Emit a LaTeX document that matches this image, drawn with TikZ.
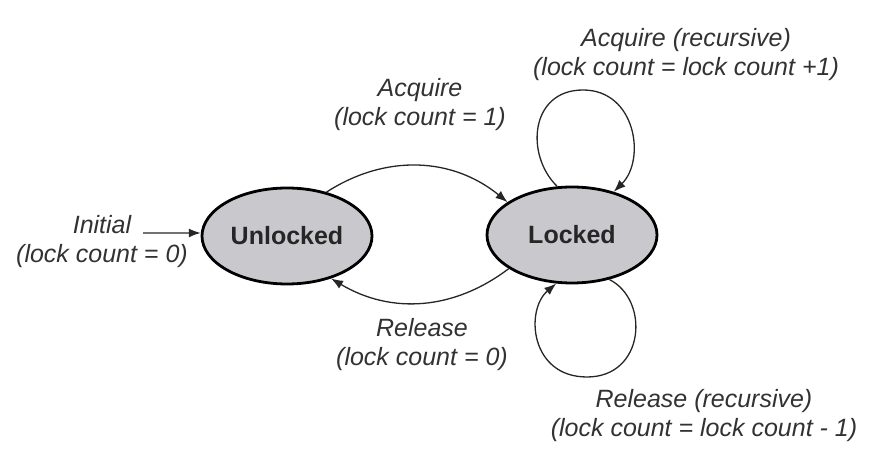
\documentclass[tikz,border=0pt]{standalone}
\usepackage{fontspec}
\setmainfont{Liberation Sans}
\usepackage{tikz}
\usetikzlibrary{arrows.meta,shapes.geometric,positioning}
\tikzset{>={Latex[length=12pt,width=9pt]}}
\definecolor{stategray}{RGB}{201,201,205}
\definecolor{lblgray}{RGB}{50,50,50}

\begin{document}
\begin{tikzpicture}[x=1pt,y=1pt,
    state/.style={ellipse,draw=black,line width=2.8pt,fill=stategray,
        minimum width=170pt,minimum height=96pt,inner sep=0pt,
        font=\fontsize{25}{29}\selectfont\bfseries,text=black!85},
    lbl/.style={align=center,text=lblgray,
        font=\fontsize{25}{29}\selectfont\itshape},
    edge/.style={->,line width=1.3pt,black!85}]
        \useasboundingbox (0,0) rectangle (880,476);

        % states
        \node[state] (unl) at (287,240) {Unlocked};
        \node[state] (lck) at (572,241) {Locked};

        % labels
        \node[lbl] (init) at (102,234) {Initial\\(lock count = 0)};
        \node[lbl] (acq) at (420,371) {Acquire\\(lock count = 1)};
        \node[lbl] (rel) at (422,131) {Release\\(lock count = 0)};
        \node[lbl] (acqrec) at (686,421) {Acquire (recursive)\\(lock count = lock count +1)};
        \node[lbl] (relrec) at (704,60) {Release (recursive)\\(lock count = lock count - 1)};

        % transitions
        \coordinate (istart) at (143,243);
        \coordinate (acqtop) at (583,386);
        \coordinate (relbot) at (587,99);
        \draw[edge] (istart) -- (unl.178);
        \draw[edge] (unl.48) to[bend left=36] (lck.153);
        \draw[edge] (lck.208) to[bend left=34] (unl.316);
        \draw[edge] (lck.107) .. controls (525,321) and (530,386) .. (acqtop)
            .. controls (636,386) and (646,316) .. (lck.46);
        \draw[edge] (lck.310) .. controls (650,176) and (645,99) .. (relbot)
            .. controls (530,99) and (525,166) .. (lck.252);
\end{tikzpicture}
\end{document}
